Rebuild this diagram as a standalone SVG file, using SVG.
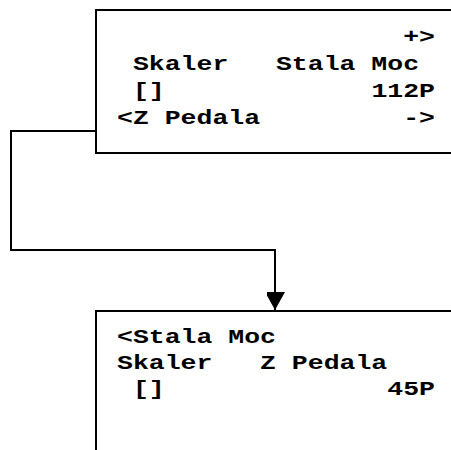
<svg xmlns="http://www.w3.org/2000/svg" width="451" height="450" viewBox="0 0 451 450">
<style>
.box{fill:#fff;stroke:#000;stroke-width:2}
.t{font-family:"Liberation Mono","Courier New",monospace;font-weight:bold;font-size:20px;fill:#000;white-space:pre}
.e{text-anchor:end}
.c{fill:none;stroke:#000;stroke-width:2}
</style>
<defs>
<marker id="ah" markerWidth="20" markerHeight="18" refX="18" refY="10" orient="auto" markerUnits="userSpaceOnUse">
<path d="M0,0 L18,10 L0,20 Z" fill="#000"/>
</marker>
</defs>
<g id="connectors">
<path class="c" d="M96,131 H11 V250 H275 V310" marker-end="url(#ah)"/>
</g>
<g id="screen1">
<rect class="box" x="96" y="10" width="400" height="143"/>
<g transform="translate(117,0) scale(1.325,1)">
<text class="t e" x="240" y="43">+&gt;</text>
<text class="t" x="0" y="70" xml:space="preserve"> Skaler   Stala Moc</text>
<text class="t" x="0" y="97" xml:space="preserve"> []</text>
<text class="t e" x="240" y="97">112P</text>
<text class="t" x="0" y="124">&lt;Z Pedala</text>
<text class="t e" x="240" y="124">-&gt;</text>
</g>
</g>
<g id="screen2">
<rect class="box" x="96" y="311" width="400" height="200"/>
<g transform="translate(117,0) scale(1.325,1)">
<text class="t" x="0" y="343">&lt;Stala Moc</text>
<text class="t" x="0" y="369" xml:space="preserve">Skaler   Z Pedala</text>
<text class="t" x="0" y="395" xml:space="preserve"> []</text>
<text class="t e" x="240" y="395">45P</text>
</g>
</g>
</svg>
